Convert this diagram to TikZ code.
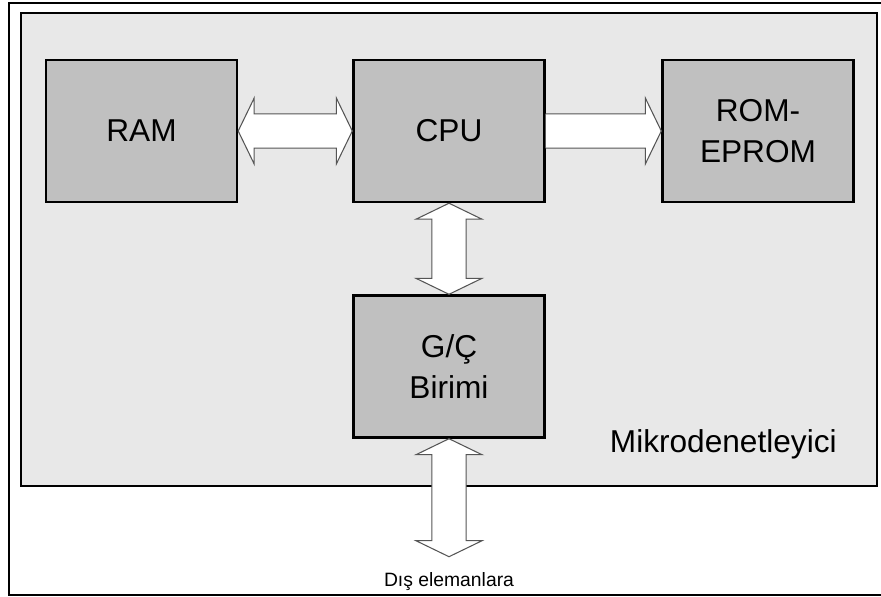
\documentclass[tikz,border=0pt]{standalone}
\usepackage{fontspec}
\setmainfont{Liberation Sans}
\usepackage{tikz}
\usetikzlibrary{positioning, calc}

\definecolor{panelgray}{RGB}{232,232,232}
\definecolor{unitgray}{RGB}{192,192,192}
\definecolor{busline}{RGB}{85,85,85}

% point in the frame of a bus (start \p1, direction \n1)
\newcommand{\buspt}[2]{([shift={(\p1)},rotate=\n1]#1,#2)}

\begin{document}
\begin{tikzpicture}[
  x=0.02cm, y=-0.02cm,
  font=\fontsize{18}{23.3}\selectfont,
  unit/.style={draw, line width=1.4pt, fill=unitgray,
               minimum width=3.82cm, minimum height=2.84cm, align=center},
  dbus/.style={draw=busline, fill=white, line width=0.6pt,
    to path={let \p1=(\tikztostart), \p2=(\tikztotarget),
      \n1={atan2(\y2-\y1,\x2-\x1)}, \n2={veclen(\x2-\x1,\y2-\y1)} in
      \buspt{0pt}{0pt} -- \buspt{9.1pt}{18.8pt} -- \buspt{9.1pt}{9.7pt}
      -- \buspt{\n2*1pt-9.1pt}{9.7pt} -- \buspt{\n2*1pt-9.1pt}{18.8pt}
      -- \buspt{\n2*1pt}{0pt} -- \buspt{\n2*1pt-9.1pt}{-18.8pt}
      -- \buspt{\n2*1pt-9.1pt}{-9.7pt} -- \buspt{9.1pt}{-9.7pt}
      -- \buspt{9.1pt}{-18.8pt} -- cycle}},
  sbus/.style={draw=busline, fill=white, line width=0.6pt,
    to path={let \p1=(\tikztostart), \p2=(\tikztotarget),
      \n1={atan2(\y2-\y1,\x2-\x1)}, \n2={veclen(\x2-\x1,\y2-\y1)} in
      \buspt{0pt}{9.7pt} -- \buspt{\n2*1pt-9.1pt}{9.7pt}
      -- \buspt{\n2*1pt-9.1pt}{18.8pt} -- \buspt{\n2*1pt}{0pt}
      -- \buspt{\n2*1pt-9.1pt}{-18.8pt} -- \buspt{\n2*1pt-9.1pt}{-9.7pt}
      -- \buspt{0pt}{-9.7pt}}}
]
  \useasboundingbox (0,0) rectangle (881,596);

  % --- frame and chip ---
  \draw[line width=1.2pt] (881,3) -- (9,3) -- (9,595) -- (881,595);
  \draw[line width=1.2pt, fill=panelgray] (21,13) rectangle (877,486);
  \node[anchor=base east, inner sep=0] (mcu) at (837,452) {Mikrodenetleyici};

  % --- units ---
  \node[unit] (ram) at (141.5,131) {RAM};
  \node[unit] (cpu) at (449,131)   {CPU};
  \node[unit] (rom) at (758,131)   {ROM-\\EPROM};
  \node[unit] (io)  at (449,366.5) {G/Ç\\Birimi};

  % --- buses ---
  \path[dbus] (ram.east) to (cpu.west);
  \path[sbus] (cpu.east) to (rom.west);
  \path[dbus] (cpu.south) to (io.north);

  \coordinate[below=2.36cm of io] (busend);
  \path[dbus] (io.south) to (busend);
  \node[font=\fontsize{11}{13}\selectfont, inner sep=0,
        below=0.3cm of busend] (dis) {Dış elemanlara};
\end{tikzpicture}
\end{document}
